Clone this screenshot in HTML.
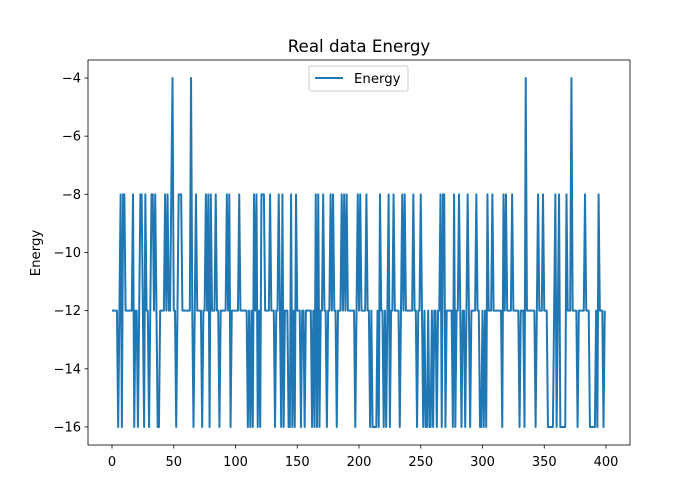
<!DOCTYPE html>
<html><head><meta charset="utf-8"><style>
body{margin:0;background:#fff}
svg{display:block;font-family:"DejaVu Sans","Liberation Sans",sans-serif}
</style></head><body>
<svg id="chart" width="700" height="500" viewBox="0 0 700 500" xmlns="http://www.w3.org/2000/svg">
<rect width="700" height="500" fill="#fff"/>
<text x="359" y="52" font-size="16.7" text-anchor="middle" fill="#000">Real data Energy</text>
<text x="0" y="0" font-size="13.3" text-anchor="middle" transform="translate(40,253) rotate(-90)">Energy</text>
<g id="plot"></g>
<rect x="88" y="60" width="542" height="385" fill="none" stroke="#000" stroke-width="0.8"/>
<g>
<rect x="309" y="66" width="99" height="25" rx="2" fill="#fff" fill-opacity="0.8" stroke="#ccc"/>
<line x1="315" y1="78" x2="343" y2="78" stroke="#1f77b4" stroke-width="2"/>
<text x="354" y="83" font-size="13.3">Energy</text>
</g>
</svg>
<script>
const xTicks=[0,50,100,150,200,250,300,350,400];
const yTicks=[-4,-6,-8,-10,-12,-14,-16];
const energy=[
-12,-12,-12,-12,-12,-16,-12,-8,-16,-8,-8,-12,-12,-12,-12,-12,-12,-8,-16,-12,
-12,-16,-12,-8,-8,-12,-16,-8,-12,-12,-16,-12,-8,-8,-12,-8,-12,-16,-16,-12,
-12,-12,-12,-8,-12,-8,-12,-12,-8,-4,-12,-12,-16,-12,-8,-8,-8,-12,-12,-12,
-12,-12,-12,-12,-4,-12,-16,-12,-8,-12,-12,-12,-12,-16,-12,-12,-8,-12,-8,-16,
-8,-12,-12,-12,-8,-12,-12,-16,-12,-12,-12,-12,-12,-8,-12,-8,-16,-12,-12,-12,
-12,-12,-12,-8,-12,-12,-12,-12,-12,-12,-16,-12,-16,-12,-16,-8,-12,-8,-16,-12,
-16,-8,-8,-8,-12,-12,-12,-12,-8,-12,-12,-12,-16,-12,-12,-8,-12,-16,-8,-16,
-12,-12,-12,-16,-16,-8,-16,-12,-16,-8,-12,-12,-12,-16,-12,-12,-16,-12,-12,-12,
-12,-12,-16,-12,-16,-8,-16,-8,-16,-12,-12,-8,-12,-12,-16,-12,-12,-8,-12,-8,
-12,-12,-16,-12,-12,-12,-8,-12,-8,-12,-8,-12,-12,-12,-12,-12,-12,-16,-12,-8,
-12,-8,-12,-12,-12,-12,-8,-12,-12,-16,-12,-16,-16,-16,-16,-12,-16,-8,-12,-12,
-16,-12,-16,-12,-8,-16,-12,-12,-8,-12,-12,-12,-12,-16,-12,-8,-12,-8,-12,-12,
-12,-12,-12,-12,-8,-12,-12,-16,-12,-12,-8,-12,-16,-12,-16,-16,-12,-16,-16,-12,
-16,-12,-12,-16,-12,-12,-8,-16,-8,-8,-16,-12,-12,-12,-12,-12,-16,-8,-16,-12,
-12,-8,-12,-16,-12,-12,-16,-12,-8,-12,-16,-12,-12,-12,-12,-8,-12,-12,-16,-16,
-12,-16,-12,-16,-8,-12,-12,-12,-8,-12,-12,-12,-12,-12,-12,-12,-16,-8,-12,-8,
-12,-12,-12,-12,-8,-12,-12,-12,-12,-12,-16,-12,-12,-12,-16,-4,-12,-12,-12,-12,
-12,-12,-12,-16,-12,-8,-12,-12,-12,-8,-12,-12,-12,-16,-16,-16,-16,-16,-12,-8,
-16,-12,-8,-16,-16,-16,-16,-16,-8,-12,-12,-12,-4,-12,-12,-12,-12,-16,-12,-12,
-12,-12,-12,-8,-12,-12,-12,-16,-16,-16,-16,-16,-12,-16,-8,-12,-12,-12,-16,-12
];
const NS='http://www.w3.org/2000/svg';
const xs=v=>112+v*(606-112)/400;
const ys=v=>78+(-4-v)*(427-78)/12;
const g=document.getElementById('plot');
function mk(t,a){const e=document.createElementNS(NS,t);for(const k in a)e.setAttribute(k,a[k]);g.appendChild(e);return e;}
xTicks.forEach(t=>{
  const l=mk('line',{x1:xs(t),x2:xs(t),y1:445,y2:448.5,stroke:'#000','stroke-width':0.8});
  
  
  const tx=mk('text',{x:xs(t),y:466,'font-size':13,'text-anchor':'middle'});
  tx.textContent=t;
  
  
});
yTicks.forEach(t=>{
  const l=mk('line',{x1:84.5,x2:88,y1:ys(t),y2:ys(t),stroke:'#000','stroke-width':0.8});
  
  
  const tx=mk('text',{x:81,y:ys(t)+4.5,'font-size':13,'text-anchor':'end'});
  tx.textContent='\u2212'+Math.abs(t);
  
  
});
const p=mk('polyline',{points:energy.map((v,i)=>xs(i)+','+ys(v)).join(' '),fill:'none',stroke:'#1f77b4','stroke-width':2,'stroke-linejoin':'round'});


</script>
</body></html>
